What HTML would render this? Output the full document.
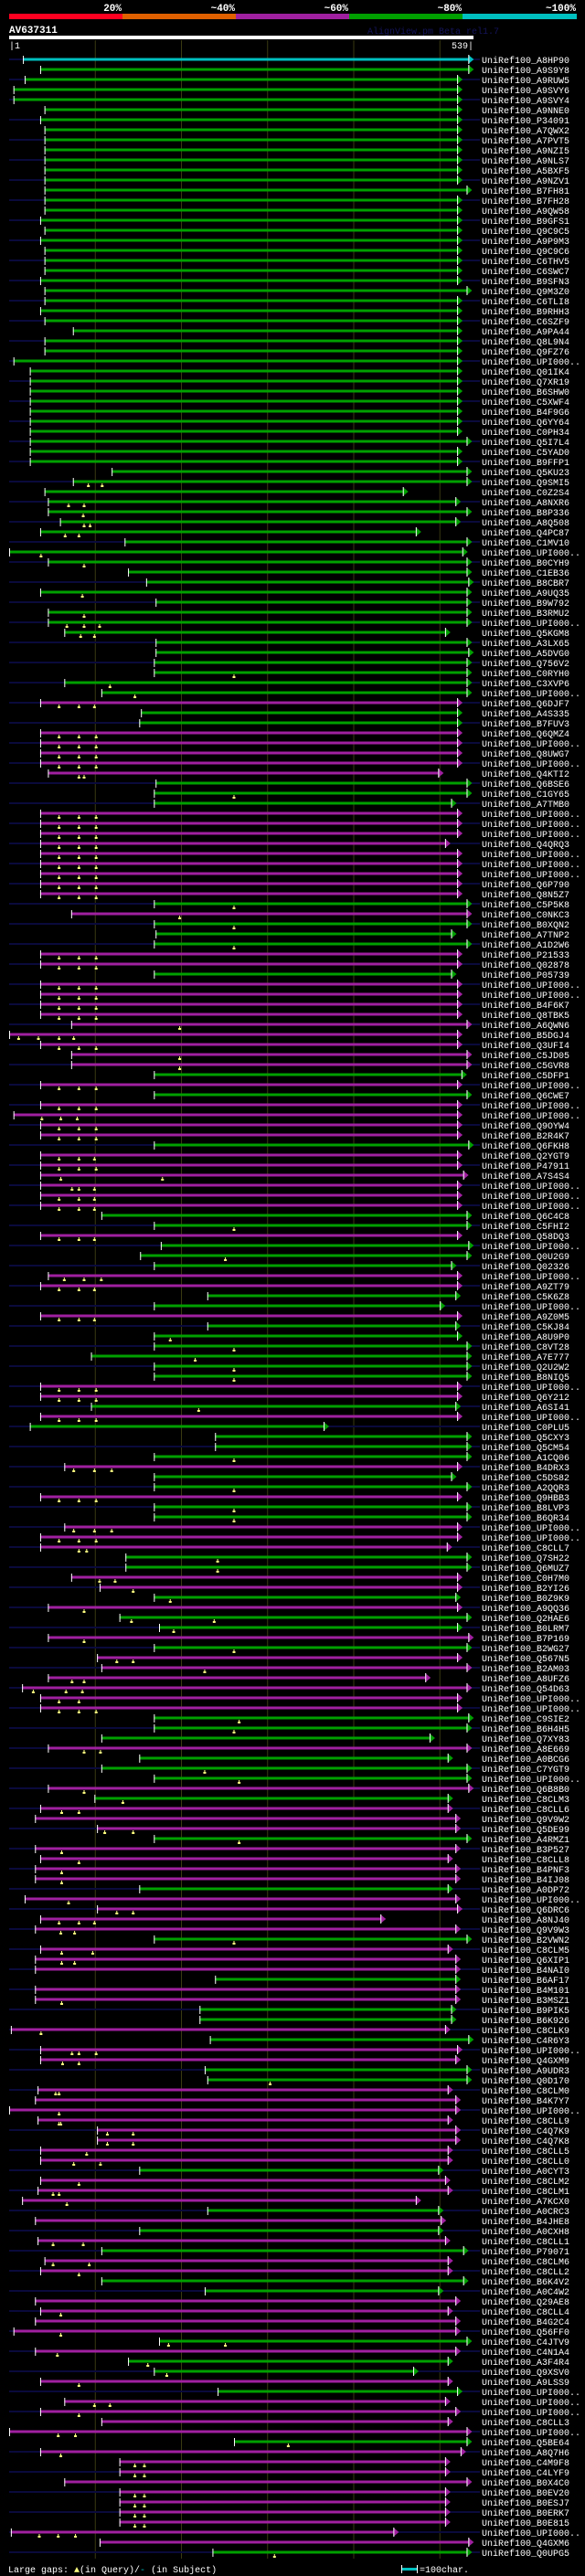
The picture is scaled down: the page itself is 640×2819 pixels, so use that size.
<!DOCTYPE html>
<html><head><meta charset="utf-8">
<style>
html,body{margin:0;padding:0;background:#000;}
svg{display:block;}
text{font-family:"Liberation Mono",monospace;}
</style></head>
<body>
<svg id="chart" width="640" height="2819" viewBox="0 0 640 2819" xmlns="http://www.w3.org/2000/svg">
<rect x="0" y="0" width="640" height="2819" fill="#000"/>
<g>
<rect x="10" y="15" width="124" height="6" fill="#ff0020"/>
<rect x="134" y="15" width="124" height="6" fill="#e06000"/>
<rect x="258" y="15" width="124" height="6" fill="#a020a0"/>
<rect x="382" y="15" width="124" height="6" fill="#00a000"/>
<rect x="506" y="15" width="125" height="6" fill="#00c0c0"/>
<text x="133" y="12" fill="#fff" font-size="11" font-weight="bold" text-anchor="end">20%</text>
<text x="257" y="12" fill="#fff" font-size="11" font-weight="bold" text-anchor="end">~40%</text>
<text x="381" y="12" fill="#fff" font-size="11" font-weight="bold" text-anchor="end">~60%</text>
<text x="505" y="12" fill="#fff" font-size="11" font-weight="bold" text-anchor="end">~80%</text>
<text x="630" y="12" fill="#fff" font-size="11" font-weight="bold" text-anchor="end">~100%</text>
</g>
<text x="10" y="36" fill="#fff" font-size="11" font-weight="bold">AV637311</text>
<text x="402" y="37" fill="#14145a" font-size="10">AlignView.pm Beta rel1.7</text>
<rect x="10" y="39" width="508" height="4" fill="#fff"/>
<text x="10" y="53" fill="#fff" font-size="10">|1</text>
<text x="518" y="53" fill="#fff" font-size="10" text-anchor="end">539|</text>
<g id="grid"></g>
<g id="rows"></g>
<g>
<text x="9" y="2815" fill="#fff" font-size="10">Large gaps: <tspan fill="#ffff80">▲</tspan>(in Query)/<tspan fill="#00c0c0">-</tspan> (in Subject)</text>
<rect x="439" y="2810" width="17" height="3" fill="#00c0c0"/>
<rect x="439" y="2807" width="1" height="9" fill="#fff"/>
<rect x="456" y="2807" width="1" height="9" fill="#fff"/>
<text x="459" y="2815" fill="#fff" font-size="10">=100char.</text>
</g>
</svg>
<script>
const queryLength = 539;
const gridTicks = [100, 200, 300, 400, 500];
const U = "UPI000..";
const labels = ["A8HP90","A9S9Y8","A9RUW5","A9SVY6","A9SVY4","A9NNE0","P34091","A7QWX2","A7PVT5","A9NZI5",
"A9NLS7","A5BXF5","A9NZV1","B7FH81","B7FH28","A9QW58","B9GFS1","Q9C9C5","A9P9M3","Q9C9C6",
"C6THV5","C6SWC7","B9SFN3","Q9M3Z0","C6TLI8","B9RHH3","C6SZF9","A9PA44","Q8L9N4","Q9FZ76",
U,"Q01IK4","Q7XR19","B6SHW0","C5XWF4","B4F9G6","Q6YY64","C0PH34","Q5I7L4","C5YAD0",
"B9FFP1","Q5KU23","Q9SMI5","C0Z2S4","A8NXR6","B8P336","A8Q508","Q4PC87","C1MV10",U,
"B0CYH9","C1EB36","B8CBR7","A9UQ35","B9W792","B3RMU2",U,"Q5KGM8","A3LX65","A5DVG0",
"Q756V2","C0RYH0","C3XVP6",U,"Q6DJF7","A4S335","B7FUV3","Q6QMZ4",U,"Q8UWG7",
U,"Q4KTI2","Q6BSE6","C1GY65","A7TMB0",U,U,U,"Q4QRQ3",U,
U,U,"Q6P790","Q8N5Z7","C5P5K8","C0NKC3","B0XQN2","A7TNP2","A1D2W6","P21533",
"Q02878","P05739",U,U,"B4F6K7","Q8TBK5","A6QWN6","B5DGJ4","Q3UFI4","C5JD05",
"C5GVR8","C5DFP1",U,"Q6CWE7",U,U,"Q9OYW4","B2R4K7","Q6FKH8","Q2YGT9",
"P47911","A7S4S4",U,U,U,"Q6C4C8","C5FHI2","Q58DQ3",U,"Q0U2G9",
"Q02326",U,"A9ZT79","C5K6Z8",U,"A9Z0M5","C5KJ84","A8U9P0","C8VT28","A7E777",
"Q2U2W2","B8NIQ5",U,"Q6Y212","A6SI41",U,"C0PLU5","Q5CXY3","Q5CM54","A1CQ06",
"B4DRX3","C5DS82","A2QQR3","Q9HBB3","B8LVP3","B6QR34",U,U,"C8CLL7","Q7SH22",
"Q6MUZ7","C0H7M0","B2YI26","B0Z9K9","A9QQ36","Q2HAE6","B0LRM7","B7P169","B2WG27","Q567N5",
"B2AM03","A8UFZ6","Q54D63",U,U,"C9SIE2","B6H4H5","Q7XY83","A8E669","A0BCG6",
"C7YGT9",U,"Q6B8B0","C8CLM3","C8CLL6","Q9V9W2","Q5DE99","A4RMZ1","B3P527","C8CLL8",
"B4PNF3","B4IJ08","A0DP72",U,"Q6DRC6","A8NJ40","Q9V9W3","B2VWN2","C8CLM5","Q6XIP1",
"B4NAI0","B6AF17","B4M101","B3MSZ1","B9PIK5","B6K926","C8CLK9","C4R6Y3",U,"Q4GXM9",
"A9UDR3","Q0D170","C8CLM0","B4K7Y7",U,"C8CLL9","C4Q7K9","C4Q7K8","C8CLL5","C8CLL0",
"A0CYT3","C8CLM2","C8CLM1","A7KCX0","A0CRC3","B4JHE8","A0CXH8","C8CLL1","P79071","C8CLM6",
"C8CLL2","B6K4V2","A0C4W2","Q29AE8","C8CLL4","B4G2C4","Q56FF0","C4JTV9","C4N1A4","A3F4R4",
"Q9XSV0","A9LSS9",U,U,U,"C8CLL3",U,"Q5BE64","A8Q7H6","C4M9F8",
"C4LYF9","B0X4C0","B0EV20","B0ESJ7","B0ERK7","B0E815",U,"Q4GXM6","Q0UPG5"];
const identityClass = ("cggggggggg"+"gggggggggg"+"gggggggggg"+"gggggggggg"+"gggggggggg"+"gggggggggg"+
"ggggmggmmm"+"mmgggmmmmm"+"mmmmgmgggm"+"mgmmmmmmmm"+"mgmgmmmmgm"+"mmmmmggmgg"+"gmmggmgggg"+
"ggmmgmgggg"+"mggmggmmmg"+"gmmgmggmgm"+"mmmmmgggmg"+"ggmgmmmgmm"+"mmgmmmmgmm"+"mgmmggmgmm"+
"ggmmmmmmmm"+"gmmmgmgmgm"+"mggmmmmgmg"+"gmgmmmmgmm"+"mmmmmmmmg").split("");
const starts = [16,36,18,5,5,41,36,41,41,41, 41,41,41,41,41,41,36,41,36,41,
41,41,36,41,41,36,41,74,41,41, 5,24,24,24,24,24,24,24,24,24,
24,119,74,41,45,45,59,36,134,0, 45,138,159,36,170,45,45,64,170,170,
168,168,64,107,36,153,151,36,36,36, 36,45,170,168,168,36,36,36,36,36,
36,36,36,36,168,72,168,170,168,36, 36,168,36,36,36,36,72,0,36,72,
72,168,36,168,36,5,36,36,168,36, 36,36,36,36,36,107,168,36,176,152,
168,45,36,230,168,36,230,168,168,95, 168,168,36,36,95,36,24,239,239,168,
64,168,168,36,168,168,64,36,36,135, 135,72,105,168,45,128,174,45,168,102,
107,45,15,36,36,168,168,107,45,151, 107,168,45,99,36,30,102,168,30,36,
30,30,151,18,102,36,30,168,36,30, 30,239,30,30,221,221,2,233,36,36,
227,230,33,30,0,33,102,102,36,36, 151,36,33,15,230,30,151,33,107,41,
36,107,227,30,36,30,5,174,30,138, 168,36,242,64,36,107,0,261,36,128,
128,64,128,128,128,128,2,105,236];
const ends = [533,533,520,520,520,520,520,520,520,520, 520,520,520,531,520,520,520,520,520,520,
520,520,520,531,520,520,520,520,520,520, 520,520,520,520,520,520,520,520,531,520,
520,531,531,457,518,531,518,472,531,526, 531,531,533,531,531,531,531,506,531,533,
531,531,531,531,520,520,520,520,520,520, 520,498,531,531,513,520,520,520,506,520,
520,520,520,520,531,531,531,513,531,520, 520,513,520,520,520,520,531,520,520,531,
531,525,520,531,520,520,520,520,533,520, 520,527,520,520,520,531,531,520,533,531,
513,520,520,518,500,520,518,520,531,531, 531,531,520,520,518,520,365,531,531,531,
520,513,531,520,531,531,520,520,508,531, 531,520,520,518,520,531,520,533,531,520,
531,483,531,520,520,533,531,488,531,509, 531,531,533,509,509,518,518,531,518,509,
518,518,509,518,520,431,518,531,509,518, 518,518,518,518,513,513,506,533,520,518,
531,531,509,518,518,509,518,518,509,509, 498,506,509,472,498,501,498,506,527,509,
509,527,498,518,509,518,518,531,518,509, 469,509,520,506,518,509,531,531,524,506,
506,531,506,506,506,506,446,533,531];
const gapRows = [43,45,46,47,48,50,51,54,56,57,58,62,63,64,65,68,69,70,71,72,74,
76,77,78,79,80,81,82,83,84,85,86,87,89,90,91,93,94,95,96,97,98,99,100,101,103,105,106,107,108,
110,111,112,113,114,115,117,118,120,122,123,126,128,129,130,131,132,133,134,135,136,140,141,143,144,145,
146,147,148,149,150,151,152,153,154,155,156,157,158,159,160,161,162,163,164,165,166,167,169,171,172,173,
174,175,177,178,179,180,181,182,184,185,186,187,188,189,190,194,197,199,200,202,203,205,206,207,208,209,
210,212,213,214,218,220,221,225,227,228,229,230,231,232,234,235,237,238,239,240,241,243,244,245,246,247,249];
const gapPositions = [[92,108],[69,87],[86],[87,94],[65,81],[37],[87],[85],[87],[67,87,105],[83,99],[261],[117],[146],[58,81,99],[58,81,101],[58,81,101],[58,81,101],[58,81,101],[81,87],[261],
[58,81,101],[58,81,101],[58,81,101],[58,81,101],[58,81,101],[58,81,101],[58,81,101],[58,81,101],[58,81,101],[261],[198],[261],[261],[58,81,101],[58,81,101],[58,81,101],[58,81,101],[58,81,101],[58,81,101],[198],[11,34,58,75],[58,81,101],[198],[198],[58,81,101],[58,81,101],[38,60,79],[58,81,101],[58,81,101],
[58,81,99],[58,81,101],[60,178],[73,81,99],[58,81,99],[58,81,99],[261],[58,81,99],[251],[64,87,107],[58,81,99],[58,81,99],[187],[261],[216],[261],[261],[58,81,101],[58,81,101],[220],[58,81,101],[261],[75,99,119],[261],[58,81,101],[261],
[261],[75,99,119],[58,81,101],[81,90],[242],[242],[105,123],[144],[187],[87],[142,238],[191],[87],[261],[125,144],[227],[73,87],[28,66,85],[58,81],[58,81,101],[267],[261],[87,106],[227],[267],[87],
[132],[61,81],[111,144],[267],[61],[81],[61],[61],[69],[125,144],[58,81,99],[60,76],[261],[61,97],[61,76],[61],[37],[73,81,101],[62,81],[303],[54,58],[58],[58,60],[114,144],[114,144],[90],
[75,106],[81],[51,58],[67],[51,86],[51,93],[81],[60],[60],[185,251],[56],[161],[183],[81],[99,117],[81],[57,77],[324],[60],[146,157],[146,157],[146,157],[146,157],[146,157],[146,157],[35,57,77],[308]];

const NS = "http://www.w3.org/2000/svg";
const X0 = 10, X1 = 518, ROW0 = 65, ROWH = 11;
function xScale(p){ return X0 + p * (X1 - X0) / queryLength; }
function yRow(i){ return ROW0 + i * ROWH; }
const colorMap = {c:"#00c0c0", g:"#00a000", m:"#a020a0"};
function mk(tag, attrs, parent){
  const e = document.createElementNS(NS, tag);
  for (const k in attrs) e.setAttribute(k, attrs[k]);
  parent.appendChild(e);
  return e;
}
const grid = document.getElementById("grid");
gridTicks.forEach(function(t){
  const l = mk("line", {x1:xScale(t), x2:xScale(t), y1:44, y2:2800, stroke:"#3a3a12", "stroke-width":1}, grid);
  
  
});
const rowsG = document.getElementById("rows");
const gapMap = {};
gapRows.forEach(function(r, k){ gapMap[r] = gapPositions[k]; });
labels.forEach(function(lab, i){
  const y = yRow(i);
  const xs = xScale(starts[i]), xe = xScale(ends[i]);
  const col = colorMap[identityClass[i]] || "#00a000";
  const g = mk("g", {}, rowsG);
  
  
  if (i % 2 === 0) {
    if (xs > X0 + 1) {
      const nl = mk("rect", {x:X0, y:y-1, width:xs-X0, height:2, fill:"#0a0a3c"}, g);
      
      
    }
    if (xe < 525) {
      const nr = mk("rect", {x:xe, y:y-1, width:525-xe, height:2, fill:"#0a0a3c"}, g);
      
      
    }
  }
  const bar = mk("rect", {x:xs, y:y-1.5, width:xe-xs, height:3, fill:col}, g);
  
  
  const tick = mk("rect", {x:xs, y:y-4, width:1, height:9, fill:"#fff"}, g);
  
  
  const tri = mk("polygon", {points:(xe)+","+(y-5)+" "+(xe+6)+","+y+" "+(xe)+","+(y+5), fill:col}, g);
  
  
  const edge = mk("rect", {x:xe, y:y-5, width:1, height:10, fill:"#fff"}, g);
  
  
  (gapMap[i+1] || []).forEach(function(p){
    const gx = xScale(p);
    const m = mk("path", {d:"M"+(gx-1.5)+" "+(y+6)+" h3 v-2 h-1 v-2 h-1 v2 h-1 z", fill:"#ffff80"}, g);
    
    
  });
  const t = mk("text", {x:527, y:y+4, fill:"#fff", "font-size":10}, g);
  t.textContent = "UniRef100_" + lab;
  
  
});
</script>
</body></html>
